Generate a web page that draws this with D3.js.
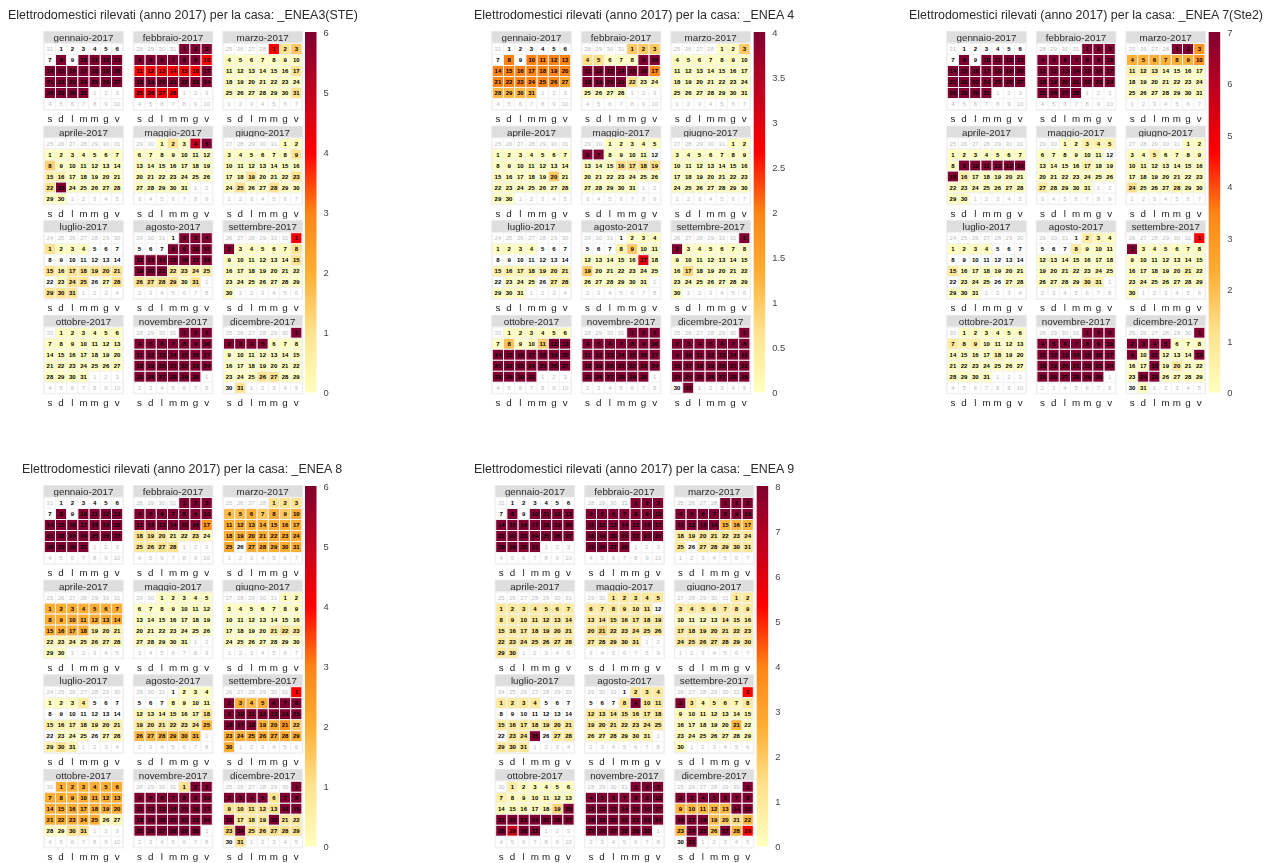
<!DOCTYPE html>
<html><head><meta charset="utf-8">
<script src="https://cdn.jsdelivr.net/npm/d3@7"></script>
<style>
html,body{margin:0;padding:0;background:#fff}
svg{display:block;font-family:"Liberation Sans",Arial,sans-serif;filter:blur(.4px)}
</style></head><body><svg id="c" width="1271" height="863"></svg>
<script>
const monthNames=["gennaio","febbraio","marzo","aprile","maggio","giugno","luglio","agosto","settembre","ottobre","novembre","dicembre"];
const weekdayLabels=["s","d","l","m","m","g","v"];
const year=2017;
// one string per month: day values in order; "v*n" repeats, "." means no reading
const enea3=[
".*7 6 . 6*22",
"6*9 4 4*6 6 6*7 4.5 4.5 4 4",
"4 1 1.5 0*13 1 0*13 1",
"0*7 1.3 0*6 .5 .5 0*5 1 6 0*5 0 0",
"0 1 0 5 6 0*26",
"0*8 1 0*9 1 0*3 1 0 1 0 0 1 0 0",
"1 0 0 0 .*10 1 .5 1*5 . 0 1 1 . 0 1 1 1 1",
". 6 6 6 .*3 6*14 .6*4 1*4 0 1",
"4.2 6 0*5 1 0*6 1 0*14 0",
"0*31",
"6*30",
"6*5 0*20 1 1 0 0 . 1"];
const enea4=[
".*7 2 . 2*17 1.5 1.2*4",
"1 1 1 .7 .7 0 0 0 4*8 2 4*4 .7 0*6",
"0 0 1 0*28",
"0*19 1 0*10",
"0*5 4 4 0*4 . 0 0 0 .7*4 0*12",
"0*30",
"0*4 .*10 .3*7 . 0 0 0 . .3 .3 0 0 0",
". 0 0 0 .*3 .3 1 0 0 0*5 3 0 1 0*12",
"4 4 0*14 .8 0*13",
"0*7 1.1 0 0 .9 4*20",
"4*30",
"4*29 . 4"];
const enea7=[
".*7 7 . 7*22",
"7*28",
"7 7 3 2.3*6 3 .5*3 0*18",
"0*8 7*7 .7 0*14",
"0 0 .6 .5 .5 0*6 . 0*4 .6 0*9 .7 0*4",
"0*4 .7 0*4 .3 .3 0*12 1.2 0*3 .5 0 0",
"0*4 .*10 .9 0*6 . 0 0 0 . 0 0 0 0 0",
". .7 .3 0 .*3 .8 0*21 .7 .6",
"4.7 7 0*18 .5 0*9",
"0*6 .9 .5 .8 0*8 .6 0*13",
"7*30",
"7*5 0*3 7 0 7 0*3 7 0 0 7 0 .8 0 0 0 7 7 0*4 . 0"];
const enea8=[
".*7 6 . 6*22",
"6*16 2.7 1 1 .8 .4 .4 .7 0 .8 .8 1 1",
"1 1 1 1.7 1.7 2 1.5 2 1.5 2 2*7 2*7 2 . 2*5",
"2*18 .4*3 .3*7 0 0",
"0*31",
"0*20 .7 1 .7 0*7",
"0 0 0 .7 .*10 .5*7 . 0 0 0 . 0 .3 .5 1 .5",
". 0 0 0 .*3 0*4 .2*6 1 .7*6 1.8 1.8*6",
"4 6 2 1.8 2 6*3 6*7 6*3 2 2 2.7 1.5 2*7 2",
"2*25 .3 .3 0 0 1 1",
"1 6*29",
"6*5 1 6 6 1*5 6 6 6 .7*3 6 .8 .8 1.2 6 1*5 . 1"];
const enea9=[
".*7 8 . 8*22",
"8*28",
"8*14 2.5*3 1*7 1 . 1*5",
"1*30",
"1*11 . 1*8 1.7 1*10",
"1*9 .1*4 .8*3 1*14",
"1*4 .*10 1*7 . 1 1 8 . 1 1 1 1 1",
". 1.2 1 1 .*3 1.2 8 1 1 1*7 1*7 .5*6",
"5.3 8 1 .3 .6 .6 .3 1 .3*7 .2*5 2.5 0 .2*7 .2",
".8 0*5 .7 .2*6 .2*5 1.7 8 8*7 8 6.5 8 8",
"8*30",
"8*8 2.5*5 8*5 2.2 2 1.5 2.5 2.5 8 8 2 8 2.5 5.3 . 8"];
const ticks3=[0,1,2,3,4,5,6], ticks4=[0,.5,1,1.5,2,2.5,3,3.5,4], ticks7=[0,1,2,3,4,5,6,7], ticks8=[0,1,2,3,4,5,6,7,8];
const titlePrefix="Elettrodomestici rilevati (anno 2017) per la casa: ";
const houseNames=["_ENEA3(STE)","_ENEA 4","_ENEA 7(Ste2)","_ENEA 8","_ENEA 9"];
const houseValues=[enea3,enea4,enea7,enea8,enea9];
const houseTicks=[ticks3,ticks4,ticks7,ticks3,ticks8];

// layout, kept apart from the values
const layout=[
 {tx:8,ty:19,x:44.3,bx:305,y:32},
 {tx:474,ty:19,x:492.3,bx:753.7,y:32},
 {tx:909,ty:19,x:947.3,bx:1208.7,y:32},
 {tx:22,ty:473,x:44.3,bx:305,y:486},
 {tx:474,ty:473,x:495.7,bx:756.7,y:486}];
const colPitch=89.6,rowPitch=94.6,panelW=78.4,stripH=11.5,bodyH=66,barW=11.5,barH=360.5;
const palette=["#FFFFBF","#FFE38F","#FFAE33","#FF8415","#FF0000","#C0001E","#7F0030"];
const paletteStops=d3.range(palette.length).map(i=>i/(palette.length-1));

const parseMonth=s=>s.trim().split(/\s+/).flatMap(t=>{
  const [v,n]=t.split("*");
  const val=v==="."?null:+v;
  return d3.range(n?+n:1).map(()=>val);
});
const svg=d3.select("#c");
const defs=svg.append("defs");
const xBand=d3.scaleBand().domain(d3.range(7)).range([0,panelW]);
const yBand=d3.scaleBand().domain(d3.range(6)).range([0,bodyH]);

houseNames.forEach((name,h)=>{
  const L=layout[h],tk=houseTicks[h],maxV=d3.max(tk);
  const color=d3.scaleLinear().domain(paletteStops.map(s=>s*maxV)).range(palette).clamp(true);
  const g=svg.append("g");
  g.append("text").attr("x",L.tx).attr("y",L.ty).attr("font-size",12.45).attr("fill","#2a2a2a").text(titlePrefix+name);
  monthNames.forEach((mName,m)=>{
    const vals=parseMonth(houseValues[h][m]);
    const px=L.x+(m%3)*colPitch, py=L.y+Math.floor(m/3)*rowPitch;
    const mg=g.append("g").attr("transform",`translate(${px},${py})`);
    mg.append("rect").attr("x",-.5).attr("y",-.5).attr("width",panelW+1).attr("height",stripH+.5).attr("fill","#dedede").attr("stroke","#e8e8e8");
    mg.append("text").attr("x",panelW/2).attr("y",stripH-2.4).attr("text-anchor","middle").attr("font-size",9.8).attr("fill","#2a2a2a").text(`${mName}-${year}`);
    const first=new Date(Date.UTC(year,m,1));
    const col=(first.getUTCDay()+1)%7;
    const start=d3.utcDay.offset(first,-(col===0?7:col));
    const cells=d3.range(42).map(i=>{
      const d=d3.utcDay.offset(start,i);
      const inM=d.getUTCMonth()===m;
      return {i,day:d.getUTCDate(),inM,v:inM?vals[d.getUTCDate()-1]:null};
    });
    const body=mg.append("g").attr("transform",`translate(0,${stripH})`);
    body.append("rect").attr("x",-.5).attr("y",-.5).attr("width",panelW+1).attr("height",bodyH+1).attr("fill","#fff").attr("stroke","#e8e8e8");
    body.selectAll("rect.c").data(cells).join("rect").attr("class","c")
      .attr("x",d=>xBand(d.i%7)).attr("y",d=>yBand(Math.floor(d.i/7)))
      .attr("width",xBand.bandwidth()).attr("height",yBand.bandwidth())
      .attr("fill",d=>d.v==null?"#fff":color(d.v)).attr("stroke","#f2f2f2").attr("stroke-width",1);
    body.selectAll("text").data(cells).join("text")
      .attr("x",d=>xBand(d.i%7)+xBand.bandwidth()/2).attr("y",d=>yBand(Math.floor(d.i/7))+yBand.bandwidth()/2+2.1)
      .attr("text-anchor","middle").attr("font-size",6)
      .attr("font-weight",d=>d.inM?"700":"400").attr("fill",d=>d.inM?"#000":"#bdbdbd").text(d=>d.day);
    mg.selectAll("text.w").data(weekdayLabels).join("text").attr("class","w")
      .attr("x",(d,i)=>xBand(i)+xBand.bandwidth()/2).attr("y",stripH+bodyH+12.5)
      .attr("text-anchor","middle").attr("font-size",9.8).attr("fill","#222").text(d=>d);
  });
  // colour key
  const id="key"+h;
  const grad=defs.append("linearGradient").attr("id",id).attr("x1",0).attr("x2",0).attr("y1",1).attr("y2",0);
  paletteStops.forEach((s,i)=>grad.append("stop").attr("offset",s).attr("stop-color",palette[i]));
  g.append("rect").attr("x",L.bx).attr("y",L.y).attr("width",barW).attr("height",barH).attr("fill",`url(#${id})`);
  const yKey=d3.scaleLinear().domain([0,maxV]).range([L.y+barH,L.y]);
  const axis=d3.axisRight(yKey).tickValues(tk).tickSize(0).tickPadding(7).tickFormat(d3.format("~g"));
  const ag=g.append("g").attr("transform",`translate(${L.bx+barW},0)`).call(axis);
  ag.select(".domain").remove();
  ag.selectAll("text").attr("font-size",9.4).attr("fill","#444").attr("font-family","inherit");
});
</script></body></html>
